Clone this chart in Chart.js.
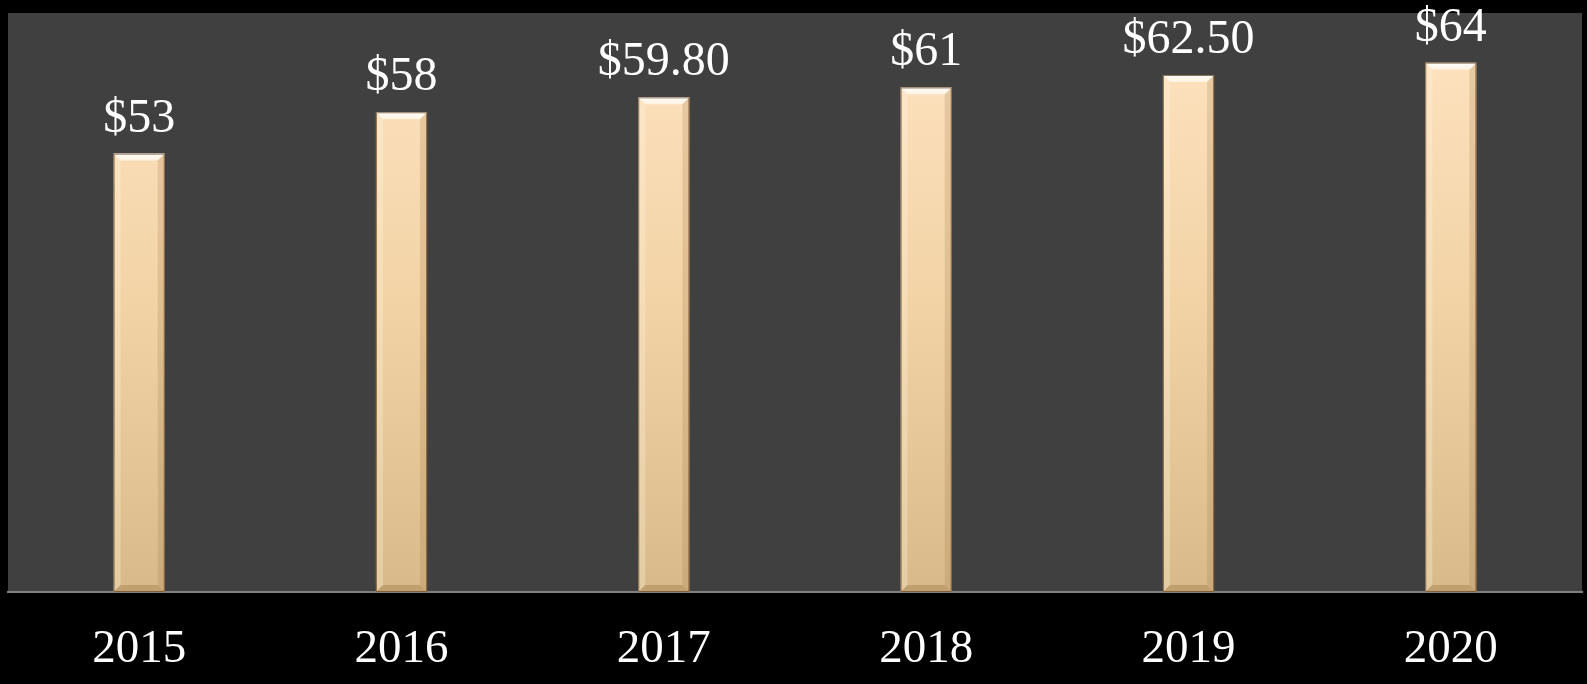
<!DOCTYPE html>
<html>
<head>
<meta charset="utf-8">
<script src="https://cdn.jsdelivr.net/npm/chart.js@4/dist/chart.umd.min.js"></script>
<style>
  html, body { margin: 0; padding: 0; background: #000; }
  #wrap { width: 1587px; height: 684px; }
</style>
</head>
<body>
<div id="wrap"><canvas id="chart" width="1587" height="684"></canvas></div>
<script>
const years = ['2015', '2016', '2017', '2018', '2019', '2020'];
const prices = [53, 58, 59.8, 61, 62.5, 64];
const priceLabels = ['$53', '$58', '$59.80', '$61', '$62.50', '$64'];

// dark plot background + black surround
const backdrop = {
    id: 'backdrop',
    beforeDraw(chart) {
        const { ctx, chartArea: a } = chart;
        ctx.save();
        ctx.fillStyle = '#000';
        ctx.fillRect(0, 0, chart.width, chart.height);
        ctx.fillStyle = '#404040';
        ctx.fillRect(a.left, a.top, a.right - a.left, a.bottom - a.top);
        ctx.restore();
    }
};

// bevel on the bars and the value labels above them
const bevelAndLabels = {
    id: 'bevelAndLabels',
    afterDatasetsDraw(chart) {
        const ctx = chart.ctx;
        const meta = chart.getDatasetMeta(0);
        ctx.save();
        meta.data.forEach((bar, i) => {
            const l = bar.x - bar.width / 2, r = bar.x + bar.width / 2;
            const t = bar.y, b = bar.base;
            const d = 7;
            // top face
            let g = ctx.createLinearGradient(0, t, 0, t + d);
            g.addColorStop(0, 'rgba(255,255,255,1)');
            g.addColorStop(1, 'rgba(255,250,240,0.7)');
            ctx.fillStyle = g;
            ctx.beginPath();
            ctx.moveTo(l, t); ctx.lineTo(r, t); ctx.lineTo(r - d, t + d); ctx.lineTo(l + d, t + d);
            ctx.closePath(); ctx.fill();
            // left side
            ctx.fillStyle = 'rgba(255,245,225,0.3)';
            ctx.beginPath();
            ctx.moveTo(l, t); ctx.lineTo(l + d, t + d); ctx.lineTo(l + d, b - d); ctx.lineTo(l, b);
            ctx.closePath(); ctx.fill();
            // right side
            ctx.fillStyle = 'rgba(150,110,60,0.2)';
            ctx.beginPath();
            ctx.moveTo(r, t); ctx.lineTo(r - d, t + d); ctx.lineTo(r - d, b - d); ctx.lineTo(r, b);
            ctx.closePath(); ctx.fill();
            // bottom face
            ctx.fillStyle = 'rgba(140,100,50,0.3)';
            ctx.beginPath();
            ctx.moveTo(l, b); ctx.lineTo(l + d, b - d); ctx.lineTo(r - d, b - d); ctx.lineTo(r, b);
            ctx.closePath(); ctx.fill();
            // outline
            ctx.strokeStyle = 'rgba(110,80,45,0.8)';
            ctx.lineWidth = 1;
            ctx.strokeRect(l + 0.5, t + 0.5, bar.width - 1, b - t - 1);

            ctx.fillStyle = '#fff';
            ctx.font = '48px "Liberation Serif", "Times New Roman", serif';
            ctx.textAlign = 'center';
            ctx.textBaseline = 'alphabetic';
            ctx.fillText(priceLabels[i], bar.x, t - 22);
        });
        ctx.restore();
    }
};

new Chart(document.getElementById('chart'), {
    type: 'bar',
    data: {
        labels: years,
        datasets: [{
            data: prices,
            categoryPercentage: 1,
            barPercentage: 0.195,
            borderWidth: 0,
            backgroundColor: (c) => {
                const a = c.chart.chartArea;
                if (!a) return '#F2D2A5';
                const g = c.chart.ctx.createLinearGradient(0, a.top, 0, a.bottom);
                g.addColorStop(0, '#FFE4C2');
                g.addColorStop(0.5, '#F2D3A6');
                g.addColorStop(1, '#D8BA8A');
                return g;
            }
        }]
    },
    options: {
        responsive: false,
        animation: false,
        layout: { padding: { left: 8, right: 5, top: 13, bottom: 0 } },
        plugins: { legend: { display: false }, tooltip: { enabled: false } },
        scales: {
            x: {
                afterFit: (scale) => { scale.height = 92; },
                grid: { display: false, drawTicks: false },
                border: { display: true, color: '#808080', width: 2 },
                ticks: {
                    color: '#fff',
                    padding: 29,
                    font: { family: '"Liberation Serif", "Times New Roman", serif', size: 47 }
                }
            },
            y: {
                display: false,
                min: 0,
                max: 70
            }
        }
    },
    plugins: [backdrop, bevelAndLabels]
});
</script>
</body>
</html>
